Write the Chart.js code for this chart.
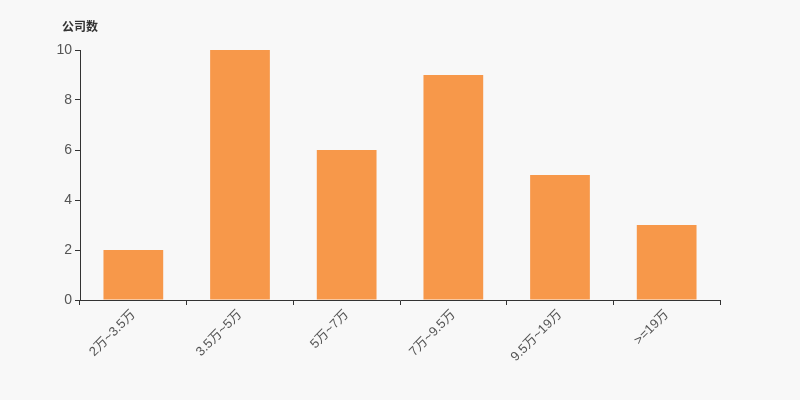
<!DOCTYPE html>
<html><head><meta charset="utf-8">
<script src="https://cdn.jsdelivr.net/npm/chart.js@4/dist/chart.umd.min.js"></script>
<style>html,body{margin:0;padding:0;background:#f8f8f8;}#wrap{width:800px;height:400px;}</style>
</head><body><div id="wrap"><canvas id="c" width="800" height="400"></canvas></div>
<script>
const categories = ['2万~3.5万','3.5万~5万','5万~7万','7万~9.5万','9.5万~19万','>=19万'];
const companyCounts = [2,10,6,9,5,3];
const yTicks = [0,2,4,6,8,10];
const yTitle = '公司数';
const FONT = "'Liberation Sans','Noto Sans CJK SC',sans-serif";

const titlePlugin = {
  id:'ytitle',
  afterDraw(chart){
    const {ctx, chartArea} = chart;
    ctx.save();
    ctx.font = "bold 12px " + FONT;
    ctx.fillStyle = '#333';
    ctx.textAlign = 'left';
    ctx.textBaseline = 'middle';
    ctx.fillText(yTitle, chartArea.left - 18, chartArea.top - 22);
    ctx.restore();
  }
};

new Chart(document.getElementById('c'), {
  type:'bar',
  data:{labels:categories, datasets:[{data:companyCounts, backgroundColor:'#f7984a', categoryPercentage:1, barPercentage:0.56}]},
  options:{
    responsive:false, animation:false,
    layout:{padding:{left:0,right:80,top:50,bottom:0}},
    plugins:{legend:{display:false}, tooltip:{enabled:false}},
    scales:{
      x:{
        offset:true,
        grid:{offset:true, drawOnChartArea:false, drawTicks:true, tickLength:5, color:'#333'},
        border:{color:'#333'},
        ticks:{maxRotation:45, minRotation:45, color:'#555', font:{size:13, family:FONT}, padding:2},
        afterFit(s){ s.height = 100; }
      },
      y:{
        min:0, max:10,
        afterBuildTicks(s){ s.ticks = yTicks.map(v=>({value:v})); },
        grid:{drawOnChartArea:false, drawTicks:true, tickLength:5, color:'#333'},
        border:{color:'#333'},
        ticks:{color:'#555', font:{size:14, family:FONT}, padding:3},
        afterFit(s){ s.width = 80; }
      }
    }
  },
  plugins:[titlePlugin]
});
</script></body></html>
